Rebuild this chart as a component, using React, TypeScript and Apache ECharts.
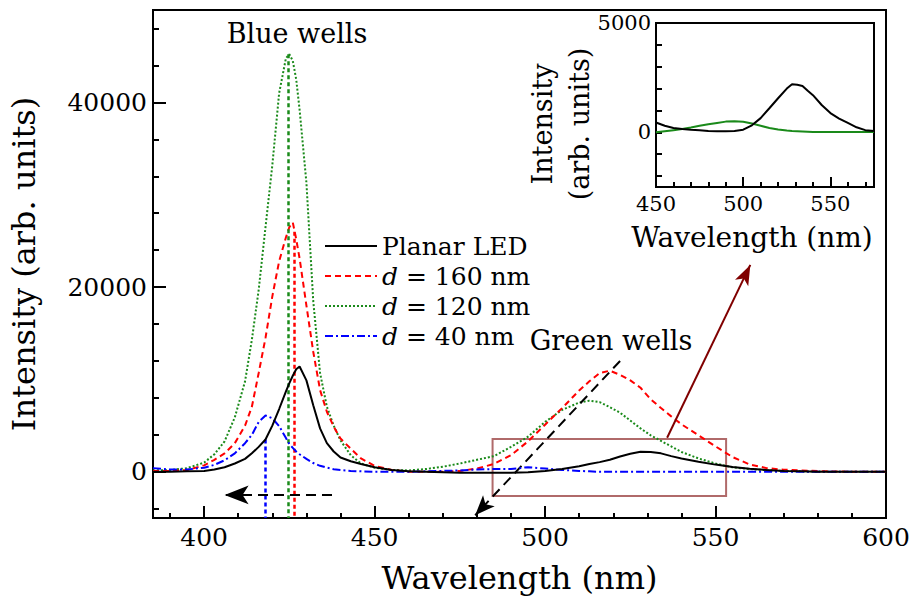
import { useEffect, useRef } from "react";
import * as echarts from "echarts";

// ---- main spectra (wavelength in nm, intensity in arb. units) ----
const wavelength = [385, 390, 395, 400, 403, 406, 409, 412, 414, 416, 418, 420, 422, 424, 425, 426, 427, 428, 430, 432, 434, 436, 438, 440, 443, 446, 450, 455, 460, 465, 470, 475, 480, 485, 490, 495, 500, 505, 510, 513, 516, 519, 522, 525, 528, 531, 534, 537, 540, 545, 550, 555, 560, 565, 570, 575, 580, 590, 600];

const planarLED = [0, 0, 50, 100, 250, 500, 900, 1400, 2000, 2700, 3500, 5000, 6800, 8700, 9600, 10400, 11100, 11400, 9900, 7200, 4700, 3100, 2200, 1550, 1150, 850, 500, 200, 50, 0, -50, -100, -100, -100, -100, -50, 100, 300, 600, 850, 1050, 1300, 1650, 1950, 2170, 2150, 2000, 1700, 1450, 1100, 780, 520, 330, 200, 100, 50, 0, 0, 0];

const d160 = [100, 100, 200, 700, 1300, 2000, 3100, 5000, 7050, 10700, 14500, 19000, 22800, 25400, 26500, 27000, 25200, 23100, 18000, 13000, 8860, 6500, 4900, 3600, 2500, 1450, 650, 200, 0, 0, 0, 100, 350, 850, 1800, 3300, 5100, 6900, 8800, 9800, 10700, 10950, 10500, 9900, 9100, 7850, 6900, 6000, 5150, 3950, 2750, 1600, 800, 400, 230, 150, 80, 0, 0];

const d120 = [150, 180, 400, 1000, 1900, 3300, 5900, 9800, 14300, 19700, 26500, 33200, 41000, 44800, 45200, 44500, 42500, 39200, 31300, 18500, 10700, 7050, 5000, 3400, 1800, 900, 450, 200, 150, 300, 550, 900, 1300, 1700, 2700, 3800, 5400, 6700, 7500, 7700, 7550, 7000, 6400, 5550, 4700, 3950, 3350, 2750, 2150, 1450, 900, 480, 300, 180, 100, 50, 30, 0, 0];

const d40 = [400, 250, 250, 450, 750, 1250, 2000, 3100, 4000, 5400, 6100, 5800, 4950, 3650, 3000, 2600, 2200, 1900, 1400, 950, 650, 450, 280, 200, 100, 50, 0, 0, 0, 50, 100, 150, 250, 300, 300, 500, 350, 200, 100, 50, 0, 0, 0, 0, 0, 0, 0, 0, 0, 0, 0, 0, 0, 0, 0, 0, 0, 0, 0];

// ---- inset spectra ----
const insetWavelength = [450, 455, 460, 465, 470, 475, 480, 485, 490, 495, 500, 505, 510, 515, 520, 525, 528, 531, 534, 537, 540, 545, 550, 555, 560, 565, 570, 575];
const insetBlack = [450, 300, 200, 150, 120, 100, 60, 45, 50, 60, 120, 320, 650, 1100, 1560, 2000, 2200, 2180, 2120, 1900, 1700, 1250, 880, 630, 430, 230, 100, 60];
const insetGreen = [0, 50, 100, 150, 220, 300, 370, 430, 490, 510, 480, 400, 300, 200, 130, 80, 60, 50, 40, 30, 20, 15, 10, 10, 10, 10, 10, 10];

// ---- ticks ----
const xMajorTicks = [400, 450, 500, 550, 600];
const xMinorTicks = [390, 410, 420, 430, 440, 460, 470, 480, 490, 510, 520, 530, 540, 560, 570, 580, 590];
const yMajorTicks = [0, 20000, 40000];
const yMinorTicks = [-4000, 4000, 8000, 12000, 16000, 24000, 28000, 32000, 36000, 44000, 48000];
const insetXLabels = [450, 500, 550];
const insetXMajorTicks = [500, 550];
const insetXMinorTicks = [460, 470, 480, 490, 510, 520, 530, 540, 560, 570];
const insetYLabels = [0, 5000];
const insetYTicks = [-2000, -1000, 0, 1000, 2000, 3000, 4000];

// ---- annotations (data coordinates) ----
const peakMarkers = [
  { x: 418, top: 3500, color: "#0000ff" },
  { x: 424.8, top: 45200, color: "#1a8a1a" },
  { x: 426.3, top: 26000, color: "#ff0000" },
];
const blueShiftArrow = [[437.5, -2500], [406, -2500]];
const greenShiftArrow = [[522, 12000], [479.5, -4700]];
const zoomArrow = [[535.8, 3690], [560.2, 22400]];
const zoomBox = [[484.6, 3550], [553.1, -2630]];

const FONT = "DejaVu Serif";
const pair = (xs: number[], ys: number[]) => xs.map((x, i) => [x, ys[i]]);
const plain = (v: number) => String(v);

export default function App() {
  const ref = useRef<HTMLDivElement>(null);
  useEffect(() => {
    const chart = echarts.init(ref.current!, null, { renderer: "svg" });
    const tickLabel = { fontFamily: FONT, fontSize: 25, color: "#000", formatter: plain };
    const insetLabel = { fontFamily: FONT, fontSize: 21, color: "#000", formatter: plain };
    const blackLine = { show: true, onZero: false, lineStyle: { color: "#000", width: 2 } };
    const hiddenLine = { show: false, onZero: false };
    const option: any = {
      animation: false,
      backgroundColor: "#fff",
      grid: [
        { left: 152, top: 10, width: 734, height: 508, show: true, borderColor: "#000", borderWidth: 2, backgroundColor: "transparent" },
        { left: 656, top: 23, width: 218, height: 164, show: true, borderColor: "#000", borderWidth: 2, backgroundColor: "#fff" },
      ],
      xAxis: [
        {
          gridIndex: 0, type: "value", min: 385, max: 600, position: "bottom",
          axisLine: blackLine,
          axisTick: { show: true, inside: true, length: 12, customValues: xMajorTicks, lineStyle: { color: "#000", width: 2 } },
          axisLabel: { ...tickLabel, customValues: xMajorTicks, margin: 7 },
          splitLine: { show: false },
          name: "Wavelength (nm)", nameLocation: "middle", nameGap: 44,
          nameTextStyle: { fontFamily: FONT, fontSize: 32, color: "#000" },
        },
        {
          gridIndex: 0, type: "value", min: 385, max: 600, position: "bottom",
          axisLine: hiddenLine,
          axisTick: { show: true, inside: true, length: 5, customValues: xMinorTicks, lineStyle: { color: "#000", width: 2 } },
          axisLabel: { show: false }, splitLine: { show: false },
        },
        {
          gridIndex: 1, type: "value", min: 450, max: 575, position: "bottom",
          axisLine: blackLine,
          axisTick: { show: true, inside: true, length: 10, customValues: insetXMajorTicks, lineStyle: { color: "#000", width: 2 } },
          axisLabel: { ...insetLabel, customValues: insetXLabels, margin: 6 },
          splitLine: { show: false },
          name: "Wavelength (nm)", nameLocation: "middle", nameGap: 36,
          nameTextStyle: { fontFamily: FONT, fontSize: 28, color: "#000", padding: [0, 26, 0, 0] },
        },
        {
          gridIndex: 1, type: "value", min: 450, max: 575, position: "bottom",
          axisLine: hiddenLine,
          axisTick: { show: true, inside: true, length: 5, customValues: insetXMinorTicks, lineStyle: { color: "#000", width: 2 } },
          axisLabel: { show: false }, splitLine: { show: false },
        },
      ],
      yAxis: [
        {
          gridIndex: 0, type: "value", min: -5000, max: 50000, position: "left",
          axisLine: blackLine,
          axisTick: { show: true, inside: true, length: 13, customValues: yMajorTicks, lineStyle: { color: "#000", width: 2 } },
          axisLabel: { ...tickLabel, customValues: yMajorTicks, margin: 6 },
          splitLine: { show: false },
          name: "Intensity (arb. units)", nameLocation: "middle", nameGap: 113,
          nameTextStyle: { fontFamily: FONT, fontSize: 32, color: "#000" },
        },
        {
          gridIndex: 0, type: "value", min: -5000, max: 50000, position: "left",
          axisLine: hiddenLine,
          axisTick: { show: true, inside: true, length: 6, customValues: yMinorTicks, lineStyle: { color: "#000", width: 2 } },
          axisLabel: { show: false }, splitLine: { show: false },
        },
        {
          gridIndex: 1, type: "value", min: -2500, max: 5000, position: "left",
          axisLine: blackLine,
          axisTick: { show: true, inside: true, length: 6, customValues: insetYTicks, lineStyle: { color: "#000", width: 2 } },
          axisLabel: { ...insetLabel, customValues: insetYLabels, margin: 5 },
          splitLine: { show: false },
        },
      ],
      legend: {
        orient: "vertical", left: 319, top: 228, itemWidth: 52, itemHeight: 14, itemGap: 4,
        data: ["Planar LED", "d = 160 nm", "d = 120 nm", "d = 40 nm"],
        formatter: (name: string) => (name.startsWith("d ") ? "{i|d}" + name.slice(1) : name),
        itemStyle: { opacity: 0 },
        textStyle: {
          fontFamily: FONT, fontSize: 25, color: "#000", lineHeight: 26,
          rich: { i: { fontFamily: FONT, fontSize: 25, fontStyle: "italic", color: "#000", lineHeight: 26 } },
        },
        selectedMode: false,
      },
      series: [
        {
          name: "d = 120 nm", type: "line", xAxisIndex: 0, yAxisIndex: 0, symbol: "none",
          data: pair(wavelength, d120), color: "#1a8a1a",
          lineStyle: { color: "#1a8a1a", width: 2, type: [2, 2] }, z: 3,
        },
        {
          name: "d = 160 nm", type: "line", xAxisIndex: 0, yAxisIndex: 0, symbol: "none",
          data: pair(wavelength, d160), color: "#ff0000",
          lineStyle: { color: "#ff0000", width: 2, type: [6, 4] }, z: 4,
        },
        {
          name: "d = 40 nm", type: "line", xAxisIndex: 0, yAxisIndex: 0, symbol: "none",
          data: pair(wavelength, d40), color: "#0000ff",
          lineStyle: { color: "#0000ff", width: 2, type: [8, 3, 2, 3] }, z: 5,
        },
        {
          name: "Planar LED", type: "line", xAxisIndex: 0, yAxisIndex: 0, symbol: "none",
          data: pair(wavelength, planarLED), color: "#000",
          lineStyle: { color: "#000", width: 2 }, z: 6,
        },
        {
          name: "annotations", type: "line", xAxisIndex: 0, yAxisIndex: 0, symbol: "none", data: [], z: 7,
          markLine: {
            silent: true, animation: false, label: { show: false }, emphasis: { disabled: true },
            data: [
              ...peakMarkers.map((m) => [
                { coord: [m.x, m.top], symbol: "none", lineStyle: { color: m.color, width: 2.5, type: [4, 3] } },
                { coord: [m.x, -5000], symbol: "none" },
              ]),
              [
                { coord: blueShiftArrow[0], symbol: "none", lineStyle: { color: "#000", width: 2, type: [10, 6] } },
                { coord: blueShiftArrow[1], symbol: "arrow", symbolSize: [14, 24] },
              ],
              [
                { coord: greenShiftArrow[0], symbol: "none", lineStyle: { color: "#000", width: 2, type: [10, 6] } },
                { coord: greenShiftArrow[1], symbol: "arrow", symbolSize: [12, 20] },
              ],
              [
                { coord: zoomArrow[0], symbol: "none", lineStyle: { color: "#800000", width: 2, type: "solid" } },
                { coord: zoomArrow[1], symbol: "arrow", symbolSize: [11, 20] },
              ],
            ],
          },
          markArea: {
            silent: true, label: { show: false },
            itemStyle: { color: "rgba(0,0,0,0)", borderColor: "#b06a6a", borderWidth: 2 },
            data: [[{ coord: zoomBox[0] }, { coord: zoomBox[1] }]],
          },
        },
        {
          name: "inset planar", type: "line", xAxisIndex: 2, yAxisIndex: 2, symbol: "none",
          data: pair(insetWavelength, insetBlack), lineStyle: { color: "#000", width: 2 }, color: "#000", z: 6,
        },
        {
          name: "inset green", type: "line", xAxisIndex: 2, yAxisIndex: 2, symbol: "none",
          data: pair(insetWavelength, insetGreen), lineStyle: { color: "#1a8a1a", width: 2 }, color: "#1a8a1a", z: 5,
        },
      ],
      graphic: [
        { type: "text", x: 297, y: 33, style: { text: "Blue wells", fontFamily: FONT, fontSize: 27, fill: "#000", align: "center", verticalAlign: "middle" } },
        { type: "text", x: 611, y: 340, style: { text: "Green wells", fontFamily: FONT, fontSize: 27, fill: "#000", align: "center", verticalAlign: "middle" } },
        {
          type: "text", x: 561, y: 124, rotation: Math.PI / 2,
          style: { text: "Intensity\n(arb. units)", fontFamily: FONT, fontSize: 27, lineHeight: 37, fill: "#000", align: "center", verticalAlign: "middle" },
        },
      ],
    };
    chart.setOption(option);
    return () => chart.dispose();
  }, []);
  return <div ref={ref} style={{ position: "fixed", left: 0, top: 0, width: 921, height: 609 }} />;
}
